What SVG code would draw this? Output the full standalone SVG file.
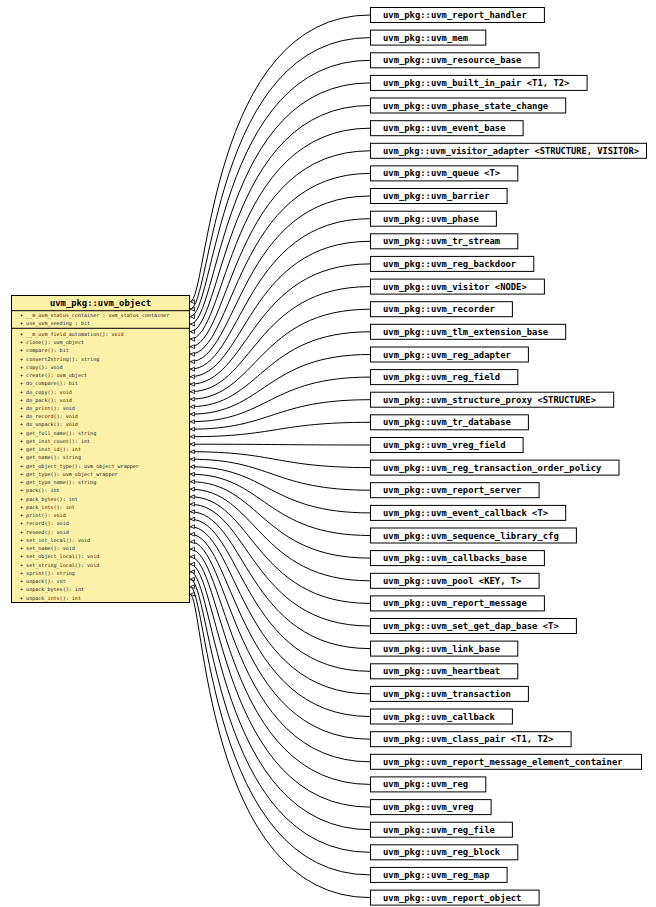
<svg xmlns="http://www.w3.org/2000/svg" width="656" height="907" viewBox="0 0 656 907">
<defs>
<marker id="tri" markerUnits="userSpaceOnUse" markerWidth="5" markerHeight="5" viewBox="0 0 6 6" refX="6" refY="3" orient="auto">
<path d="M0.5,0.7 L5.6,3 L0.5,5.3 Z" fill="#fff" stroke="#000" stroke-width="1"/>
</marker>
</defs>
<style>
.node rect{fill:#fff;stroke:#000;stroke-width:1}
.lbl{font-family:"DejaVu Sans Mono","Liberation Mono",monospace;font-weight:bold;font-size:8.85px;fill:#000}
.mem{font-family:"DejaVu Sans Mono","Liberation Mono",monospace;font-size:5.07px;fill:#111}
.edge path{fill:none;stroke:#000;stroke-width:1;marker-end:url(#tri)}
.cls{fill:#fdf1a9;stroke:#000;stroke-width:1}
.sep{stroke:#000;stroke-width:1}
</style>
<rect width="656" height="907" fill="#fff"/>

<!-- connectors: each derived class points back to uvm_object -->
<g id="edges" class="edge">
<path d="M370,15.0 C208.3,15.0 208.3,301.7 190,301.7"/>
<path d="M370,37.6 C212.1,37.6 212.1,309.2 190,309.2"/>
<path d="M370,60.3 C215.9,60.3 215.9,316.7 190,316.7"/>
<path d="M370,82.9 C219.7,82.9 219.7,324.2 190,324.2"/>
<path d="M370,105.5 C223.5,105.5 223.5,331.7 190,331.7"/>
<path d="M370,128.2 C227.2,128.2 227.2,339.2 190,339.2"/>
<path d="M370,150.8 C231.0,150.8 231.0,346.7 190,346.7"/>
<path d="M370,173.4 C234.8,173.4 234.8,354.2 190,354.2"/>
<path d="M370,196.0 C238.6,196.0 238.6,361.7 190,361.7"/>
<path d="M370,218.7 C242.4,218.7 242.4,369.2 190,369.2"/>
<path d="M370,241.3 C246.2,241.3 246.2,376.7 190,376.7"/>
<path d="M370,263.9 C249.9,263.9 249.9,384.2 190,384.2"/>
<path d="M370,286.6 C253.7,286.6 253.7,391.7 190,391.7"/>
<path d="M370,309.2 C257.5,309.2 257.5,399.2 190,399.2"/>
<path d="M370,331.8 C261.3,331.8 261.3,406.7 190,406.7"/>
<path d="M370,354.5 C265.1,354.5 265.1,414.2 190,414.2"/>
<path d="M370,377.1 C268.9,377.1 268.9,421.7 190,421.7"/>
<path d="M370,399.7 C272.6,399.7 272.6,429.2 190,429.2"/>
<path d="M370,422.3 C276.4,422.3 276.4,436.7 190,436.7"/>
<path d="M370,445.0 C279.8,445.0 279.8,444.2 190,444.2"/>
<path d="M370,467.6 C276.0,467.6 276.0,451.7 190,451.7"/>
<path d="M370,490.2 C272.3,490.2 272.3,459.2 190,459.2"/>
<path d="M370,512.9 C268.5,512.9 268.5,466.7 190,466.7"/>
<path d="M370,535.5 C264.7,535.5 264.7,474.2 190,474.2"/>
<path d="M370,558.1 C260.9,558.1 260.9,481.7 190,481.7"/>
<path d="M370,580.8 C257.1,580.8 257.1,489.2 190,489.2"/>
<path d="M370,603.4 C253.3,603.4 253.3,496.7 190,496.7"/>
<path d="M370,626.0 C249.6,626.0 249.6,504.2 190,504.2"/>
<path d="M370,648.6 C245.8,648.6 245.8,511.7 190,511.7"/>
<path d="M370,671.3 C242.0,671.3 242.0,519.2 190,519.2"/>
<path d="M370,693.9 C238.2,693.9 238.2,526.7 190,526.7"/>
<path d="M370,716.5 C234.4,716.5 234.4,534.2 190,534.2"/>
<path d="M370,739.2 C230.7,739.2 230.7,541.7 190,541.7"/>
<path d="M370,761.8 C226.9,761.8 226.9,549.2 190,549.2"/>
<path d="M370,784.4 C223.1,784.4 223.1,556.7 190,556.7"/>
<path d="M370,807.1 C219.3,807.1 219.3,564.2 190,564.2"/>
<path d="M370,829.7 C215.5,829.7 215.5,571.7 190,571.7"/>
<path d="M370,852.3 C211.7,852.3 211.7,579.2 190,579.2"/>
<path d="M370,874.9 C208.0,874.9 208.0,586.7 190,586.7"/>
<path d="M370,897.6 C204.2,897.6 204.2,594.2 190,594.2"/>
</g>

<!-- base class -->
<g id="uvm_object">
<rect class="cls" x="11.5" y="295.5" width="178" height="307"/>
<line class="sep" x1="11.5" y1="310.7" x2="189.5" y2="310.7"/>
<line class="sep" x1="11.5" y1="328.3" x2="189.5" y2="328.3"/>
<text class="lbl" x="100.5" y="306.3" text-anchor="middle">uvm_pkg::uvm_object</text>
<text class="mem">
<tspan x="20" y="316.8">+ __m_uvm_status_container : uvm_status_container</tspan>
<tspan x="20" y="325.1">+ use_uvm_seeding : bit</tspan>
<tspan x="20" y="335.8">+ __m_uvm_field_automation(): void</tspan>
<tspan x="20" y="344.0">+ clone(): uvm_object</tspan>
<tspan x="20" y="352.3">+ compare(): bit</tspan>
<tspan x="20" y="360.5">+ convert2string(): string</tspan>
<tspan x="20" y="368.8">+ copy(): void</tspan>
<tspan x="20" y="377.0">+ create(): uvm_object</tspan>
<tspan x="20" y="385.2">+ do_compare(): bit</tspan>
<tspan x="20" y="393.5">+ do_copy(): void</tspan>
<tspan x="20" y="401.7">+ do_pack(): void</tspan>
<tspan x="20" y="410.0">+ do_print(): void</tspan>
<tspan x="20" y="418.2">+ do_record(): void</tspan>
<tspan x="20" y="426.4">+ do_unpack(): void</tspan>
<tspan x="20" y="434.7">+ get_full_name(): string</tspan>
<tspan x="20" y="442.9">+ get_inst_count(): int</tspan>
<tspan x="20" y="451.2">+ get_inst_id(): int</tspan>
<tspan x="20" y="459.4">+ get_name(): string</tspan>
<tspan x="20" y="467.6">+ get_object_type(): uvm_object_wrapper</tspan>
<tspan x="20" y="475.9">+ get_type(): uvm_object_wrapper</tspan>
<tspan x="20" y="484.1">+ get_type_name(): string</tspan>
<tspan x="20" y="492.4">+ pack(): int</tspan>
<tspan x="20" y="500.6">+ pack_bytes(): int</tspan>
<tspan x="20" y="508.8">+ pack_ints(): int</tspan>
<tspan x="20" y="517.1">+ print(): void</tspan>
<tspan x="20" y="525.3">+ record(): void</tspan>
<tspan x="20" y="533.6">+ reseed(): void</tspan>
<tspan x="20" y="541.8">+ set_int_local(): void</tspan>
<tspan x="20" y="550.0">+ set_name(): void</tspan>
<tspan x="20" y="558.3">+ set_object_local(): void</tspan>
<tspan x="20" y="566.5">+ set_string_local(): void</tspan>
<tspan x="20" y="574.8">+ sprint(): string</tspan>
<tspan x="20" y="583.0">+ unpack(): int</tspan>
<tspan x="20" y="591.2">+ unpack_bytes(): int</tspan>
<tspan x="20" y="599.5">+ unpack_ints(): int</tspan>
</text>
</g>

<!-- derived classes -->
<g id="n01" class="node"><rect x="370.5" y="7.5" width="173.9" height="15"/><text class="lbl" x="383" y="18.0">uvm_pkg::uvm_report_handler</text></g>
<g id="n02" class="node"><rect x="370.5" y="30.1" width="115.3" height="15"/><text class="lbl" x="383" y="40.6">uvm_pkg::uvm_mem</text></g>
<g id="n03" class="node"><rect x="370.5" y="52.8" width="168.6" height="15"/><text class="lbl" x="383" y="63.3">uvm_pkg::uvm_resource_base</text></g>
<g id="n04" class="node"><rect x="370.5" y="75.4" width="216.6" height="15"/><text class="lbl" x="383" y="85.9">uvm_pkg::uvm_built_in_pair &lt;T1, T2&gt;</text></g>
<g id="n05" class="node"><rect x="370.5" y="98.0" width="195.2" height="15"/><text class="lbl" x="383" y="108.5">uvm_pkg::uvm_phase_state_change</text></g>
<g id="n06" class="node"><rect x="370.5" y="120.7" width="152.6" height="15"/><text class="lbl" x="383" y="131.2">uvm_pkg::uvm_event_base</text></g>
<g id="n07" class="node"><rect x="370.5" y="143.3" width="276" height="15"/><text class="lbl" x="383" y="153.8" textLength="256" lengthAdjust="spacingAndGlyphs">uvm_pkg::uvm_visitor_adapter &lt;STRUCTURE, VISITOR&gt;</text></g>
<g id="n08" class="node"><rect x="370.5" y="165.9" width="147.3" height="15"/><text class="lbl" x="383" y="176.4">uvm_pkg::uvm_queue &lt;T&gt;</text></g>
<g id="n09" class="node"><rect x="370.5" y="188.5" width="136.6" height="15"/><text class="lbl" x="383" y="199.0">uvm_pkg::uvm_barrier</text></g>
<g id="n10" class="node"><rect x="370.5" y="211.2" width="125.9" height="15"/><text class="lbl" x="383" y="221.7">uvm_pkg::uvm_phase</text></g>
<g id="n11" class="node"><rect x="370.5" y="233.8" width="147.3" height="15"/><text class="lbl" x="383" y="244.3">uvm_pkg::uvm_tr_stream</text></g>
<g id="n12" class="node"><rect x="370.5" y="256.4" width="163.3" height="15"/><text class="lbl" x="383" y="266.9">uvm_pkg::uvm_reg_backdoor</text></g>
<g id="n13" class="node"><rect x="370.5" y="279.1" width="173.9" height="15"/><text class="lbl" x="383" y="289.6">uvm_pkg::uvm_visitor &lt;NODE&gt;</text></g>
<g id="n14" class="node"><rect x="370.5" y="301.7" width="141.9" height="15"/><text class="lbl" x="383" y="312.2">uvm_pkg::uvm_recorder</text></g>
<g id="n15" class="node"><rect x="370.5" y="324.3" width="195.2" height="15"/><text class="lbl" x="383" y="334.8">uvm_pkg::uvm_tlm_extension_base</text></g>
<g id="n16" class="node"><rect x="370.5" y="347.0" width="157.9" height="15"/><text class="lbl" x="383" y="357.5">uvm_pkg::uvm_reg_adapter</text></g>
<g id="n17" class="node"><rect x="370.5" y="369.6" width="147.3" height="15"/><text class="lbl" x="383" y="380.1">uvm_pkg::uvm_reg_field</text></g>
<g id="n18" class="node"><rect x="370.5" y="392.2" width="243.2" height="15"/><text class="lbl" x="383" y="402.7">uvm_pkg::uvm_structure_proxy &lt;STRUCTURE&gt;</text></g>
<g id="n19" class="node"><rect x="370.5" y="414.8" width="157.9" height="15"/><text class="lbl" x="383" y="425.3">uvm_pkg::uvm_tr_database</text></g>
<g id="n20" class="node"><rect x="370.5" y="437.5" width="152.6" height="15"/><text class="lbl" x="383" y="448.0">uvm_pkg::uvm_vreg_field</text></g>
<g id="n21" class="node"><rect x="370.5" y="460.1" width="248.5" height="15"/><text class="lbl" x="383" y="470.6">uvm_pkg::uvm_reg_transaction_order_policy</text></g>
<g id="n22" class="node"><rect x="370.5" y="482.7" width="168.6" height="15"/><text class="lbl" x="383" y="493.2">uvm_pkg::uvm_report_server</text></g>
<g id="n23" class="node"><rect x="370.5" y="505.4" width="195.2" height="15"/><text class="lbl" x="383" y="515.9">uvm_pkg::uvm_event_callback &lt;T&gt;</text></g>
<g id="n24" class="node"><rect x="370.5" y="528.0" width="205.9" height="15"/><text class="lbl" x="383" y="538.5">uvm_pkg::uvm_sequence_library_cfg</text></g>
<g id="n25" class="node"><rect x="370.5" y="550.6" width="173.9" height="15"/><text class="lbl" x="383" y="561.1">uvm_pkg::uvm_callbacks_base</text></g>
<g id="n26" class="node"><rect x="370.5" y="573.3" width="168.6" height="15"/><text class="lbl" x="383" y="583.8">uvm_pkg::uvm_pool &lt;KEY, T&gt;</text></g>
<g id="n27" class="node"><rect x="370.5" y="595.9" width="173.9" height="15"/><text class="lbl" x="383" y="606.4">uvm_pkg::uvm_report_message</text></g>
<g id="n28" class="node"><rect x="370.5" y="618.5" width="205.9" height="15"/><text class="lbl" x="383" y="629.0">uvm_pkg::uvm_set_get_dap_base &lt;T&gt;</text></g>
<g id="n29" class="node"><rect x="370.5" y="641.1" width="147.3" height="15"/><text class="lbl" x="383" y="651.6">uvm_pkg::uvm_link_base</text></g>
<g id="n30" class="node"><rect x="370.5" y="663.8" width="147.3" height="15"/><text class="lbl" x="383" y="674.3">uvm_pkg::uvm_heartbeat</text></g>
<g id="n31" class="node"><rect x="370.5" y="686.4" width="157.9" height="15"/><text class="lbl" x="383" y="696.9">uvm_pkg::uvm_transaction</text></g>
<g id="n32" class="node"><rect x="370.5" y="709.0" width="141.9" height="15"/><text class="lbl" x="383" y="719.5">uvm_pkg::uvm_callback</text></g>
<g id="n33" class="node"><rect x="370.5" y="731.7" width="200.6" height="15"/><text class="lbl" x="383" y="742.2">uvm_pkg::uvm_class_pair &lt;T1, T2&gt;</text></g>
<g id="n34" class="node"><rect x="370.5" y="754.3" width="271" height="15"/><text class="lbl" x="383" y="764.8">uvm_pkg::uvm_report_message_element_container</text></g>
<g id="n35" class="node"><rect x="370.5" y="776.9" width="115.3" height="15"/><text class="lbl" x="383" y="787.4">uvm_pkg::uvm_reg</text></g>
<g id="n36" class="node"><rect x="370.5" y="799.6" width="120.6" height="15"/><text class="lbl" x="383" y="810.1">uvm_pkg::uvm_vreg</text></g>
<g id="n37" class="node"><rect x="370.5" y="822.2" width="141.9" height="15"/><text class="lbl" x="383" y="832.7">uvm_pkg::uvm_reg_file</text></g>
<g id="n38" class="node"><rect x="370.5" y="844.8" width="147.3" height="15"/><text class="lbl" x="383" y="855.3">uvm_pkg::uvm_reg_block</text></g>
<g id="n39" class="node"><rect x="370.5" y="867.4" width="136.6" height="15"/><text class="lbl" x="383" y="877.9">uvm_pkg::uvm_reg_map</text></g>
<g id="n40" class="node"><rect x="370.5" y="890.1" width="168.6" height="15"/><text class="lbl" x="383" y="900.6">uvm_pkg::uvm_report_object</text></g>
</svg>
